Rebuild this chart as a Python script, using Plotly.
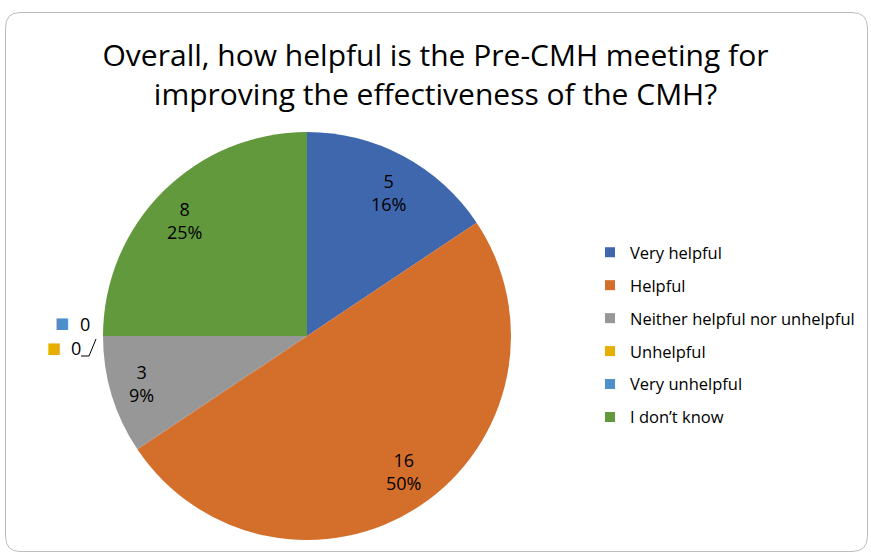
import math
import plotly.graph_objects as go

categories = ["Very helpful", "Helpful", "Neither helpful nor unhelpful",
              "Unhelpful", "Very unhelpful", "I don\u2019t know"]
counts = [5, 16, 3, 0, 0, 8]
colors = ["#3f67ad", "#d46e2b", "#979797", "#e6ae00", "#4d8fcb", "#62993c"]
title_text = "Overall, how helpful is the Pre-CMH meeting for<br>improving the effectiveness of the CMH?"

W, H = 871, 553
FONT = "Open Sans"

# pie geometry (pixels)
CX, CY, R = 307, 336, 204

fig = go.Figure()
fig.add_trace(go.Pie(
    labels=categories,
    values=counts,
    marker=dict(colors=colors, line=dict(width=0)),
    sort=False,
    direction="clockwise",
    rotation=0,
    textinfo="none",
    hoverinfo="label+value+percent",
    domain=dict(x=[(CX - R) / W, (CX + R) / W], y=[(H - CY - R) / H, (H - CY + R) / H]),
    showlegend=False,
))

# legend entries (one per category, same colours as the slices)
for name, col in zip(categories, colors):
    fig.add_trace(go.Scatter(
        x=[None], y=[None], mode="markers", name=name, legendgroup=name,
        marker=dict(symbol="square", size=10, color=col),
        showlegend=True, hoverinfo="skip",
    ))

# slice labels: value and percent, placed along each slice's mid-angle
total = sum(counts)
annotations = []
cum = 0
for v in counts:
    if v > 0:
        mid = (cum + v / 2) / total * 2 * math.pi
        px = CX + 0.85 * R * math.sin(mid)
        py = CY - 0.8 * R * math.cos(mid)
        annotations.append(dict(
            x=px / W, y=1 - py / H, xref="paper", yref="paper", showarrow=False,
            text=f"{v}<br>{v / total:.0%}", align="center",
            xanchor="center", yanchor="middle",
            font=dict(family=FONT, size=18, color="#000000")))
    cum += v

# zero-value slice labels, shown beside the pie as in the original
zero_items = [(4, 62, 323, 78, 324), (3, 54, 348, 69, 348)]
for idx, sx, sy, tx, ty in zero_items:
    annotations.append(dict(x=sx / W, y=1 - sy / H, xref="paper", yref="paper",
                            text="\u25A0", showarrow=False, xanchor="center", yanchor="middle",
                            font=dict(family="DejaVu Sans", size=15, color=colors[idx])))
    annotations.append(dict(x=tx / W, y=1 - ty / H, xref="paper", yref="paper",
                            text=str(counts[idx]), showarrow=False, xanchor="left",
                            yanchor="middle",
                            font=dict(family=FONT, size=18, color="#000000")))

shapes = [
    # rounded chart frame
    dict(type="path", xref="paper", yref="paper",
         path=("M {x0},{y0} L {x1},{y0} Q {x2},{y0} {x2},{yc0} L {x2},{y3} "
               "Q {x2},{y2} {x1},{y2} L {x0},{y2} Q {x3},{y2} {x3},{y3} "
               "L {x3},{yc0} Q {x3},{y0} {x0},{y0} Z").format(
             x0=20 / W, x1=852 / W, x2=867.5 / W, x3=5.5 / W,
             y0=1 - 12.5 / H, yc0=1 - 28 / H, y2=1 - 551.5 / H, y3=1 - 536 / H),
         line=dict(color="#bcbcbc", width=1), fillcolor="rgba(0,0,0,0)"),
    # leader line for the zero label
    dict(type="path", xref="paper", yref="paper",
         path="M {a},{b} L {c},{b} L {d},{e}".format(
             a=81 / W, c=89 / W, b=1 - 356 / H, d=96 / W, e=1 - 339 / H),
         line=dict(color="#000000", width=1)),
]

fig.update_layout(
    width=W, height=H,
    margin=dict(l=0, r=0, t=0, b=0),
    paper_bgcolor="#ffffff",
    plot_bgcolor="rgba(0,0,0,0)",
    xaxis=dict(visible=False), yaxis=dict(visible=False),
    title=dict(text=title_text, x=0.5, xanchor="center", y=1 - 66 / H, yanchor="middle",
               font=dict(family=FONT, size=30, color="#000000")),
    legend=dict(x=590 / W, y=1 - 235 / H, xanchor="left", yanchor="top",
                font=dict(family=FONT, size=16.5, color="#000000"),
                itemwidth=30, tracegroupgap=8.5, bgcolor="rgba(0,0,0,0)",
                itemclick=False, itemdoubleclick=False),
    annotations=annotations,
    shapes=shapes,
)

fig.write_html("out.html", config={"displayModeBar": False},
               post_script="document.body.style.margin='0';")
